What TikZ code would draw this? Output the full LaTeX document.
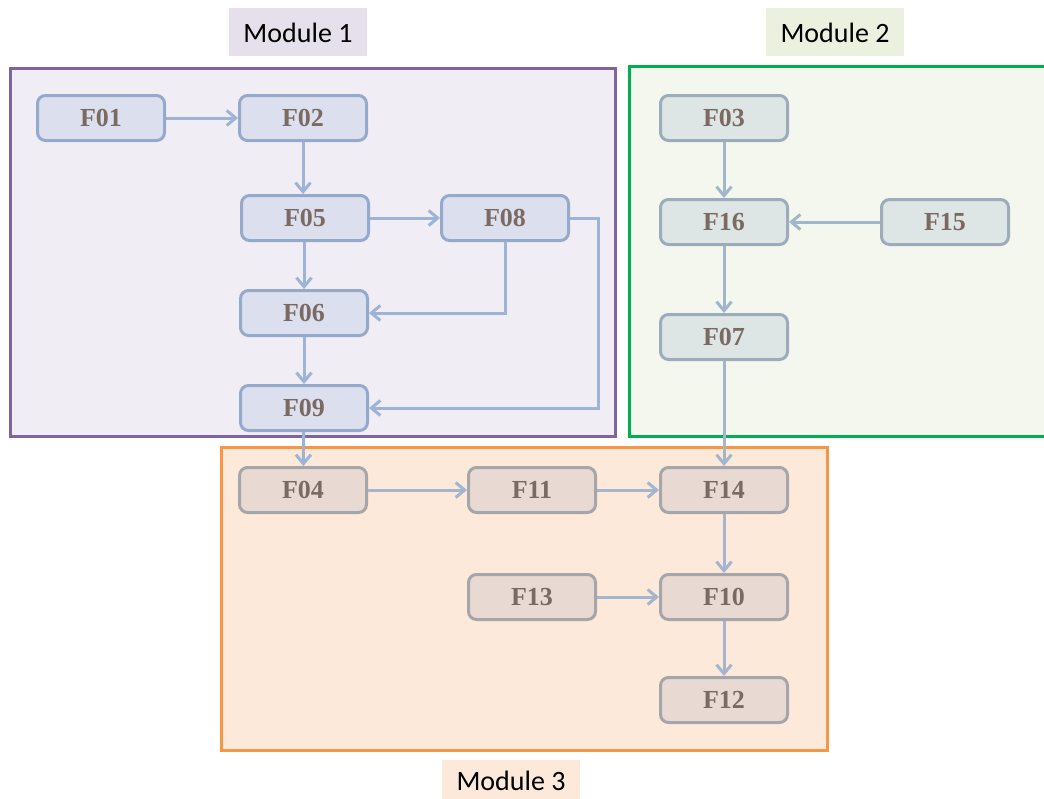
\documentclass[tikz,border=0pt]{standalone}
\usepackage{fontspec}
\setmainfont{Liberation Serif}
\newfontfamily\calibri{Carlito}
\usetikzlibrary{arrows.meta}
\definecolor{mAline}{HTML}{8064A2}
\definecolor{mAfill}{HTML}{F0EEF4}
\definecolor{mAlab}{HTML}{E5E0EC}
\definecolor{mBline}{HTML}{00B050}
\definecolor{mBfill}{HTML}{F4F7EE}
\definecolor{mBlab}{HTML}{EBF1DE}
\definecolor{mCline}{HTML}{F79646}
\definecolor{mCfill}{HTML}{FDE9D9}
\definecolor{mClab}{HTML}{FDE9D9}
\definecolor{nAfill}{HTML}{DCE0EE}
\definecolor{nAline}{HTML}{95A9CB}
\definecolor{nBfill}{HTML}{DEE5E5}
\definecolor{nBline}{HTML}{9CACBA}
\definecolor{nCfill}{HTML}{E8DAD2}
\definecolor{nCline}{HTML}{A6A6AA}
\definecolor{ntext}{HTML}{7A6A62}
\definecolor{eA}{HTML}{9DB3D7}
\definecolor{eB}{HTML}{A1B6C9}
\definecolor{eC}{HTML}{A3B5CF}
\tikzset{
  fbox/.style={rounded corners=8pt, line width=3pt, minimum width=127pt, minimum height=45pt, inner sep=0pt,
    font=\fontsize{26}{28}\selectfont\bfseries, text=ntext},
  boxA/.style={fbox, draw=nAline, fill=nAfill},
  boxB/.style={fbox, draw=nBline, fill=nBfill},
  boxC/.style={fbox, draw=nCline, fill=nCfill},
  edge/.style={line width=3pt, -{Straight Barb[length=9pt,width=15pt]}},
  edgeA/.style={edge, draw=eA},
  edgeB/.style={edge, draw=eB},
  edgeC/.style={edge, draw=eC},
  modlab/.style={font=\calibri\fontsize{28}{32}\selectfont, text=black, inner sep=0pt}
}
\begin{document}
\begin{tikzpicture}[x=1pt,y=-1pt]
\useasboundingbox (0,0) rectangle (1044,798);
\clip (0,0) rectangle (1044,798);
% modules
\draw[line width=3pt, draw=mAline, fill=mAfill] (10,68) rectangle (615,436);
\draw[line width=3pt, draw=mBline, fill=mBfill] (629,66) rectangle (1060,436);
\draw[line width=3pt, draw=mCline, fill=mCfill] (221,447) rectangle (827,750);
% labels
\fill[mAlab] (229,8) rectangle (367,56);
\node[modlab] (labA) at (298,33) {Module 1};
\fill[mBlab] (766,8) rectangle (904,56);
\node[modlab] (labB) at (835,33) {Module 2};
\fill[mClab] (442,760) rectangle (580,805);
\node[modlab] (labC) at (511,781) {Module 3};
% nodes
\node[boxA] (F01) at (101,118) {F01};
\node[boxA] (F02) at (303,118) {F02};
\node[boxA] (F05) at (305,218) {F05};
\node[boxA] (F08) at (505,218) {F08};
\node[boxA] (F06) at (304,313) {F06};
\node[boxA] (F09) at (304,408) {F09};
\node[boxB] (F03) at (724,118) {F03};
\node[boxB] (F16) at (724,222) {F16};
\node[boxB] (F15) at (945,222) {F15};
\node[boxB] (F07) at (724,337) {F07};
\node[boxC] (F04) at (303,490) {F04};
\node[boxC] (F11) at (532,490) {F11};
\node[boxC] (F14) at (724,490) {F14};
\node[boxC] (F13) at (532,597) {F13};
\node[boxC] (F10) at (724,597) {F10};
\node[boxC] (F12) at (724,700) {F12};
\coordinate (c8a) at (598,218);
\coordinate (c8b) at (598,408);
% edges
\draw[edgeA] (F01) -- (F02);
\draw[edgeA] (F02.south) -- (F02.south |- F05.north);
\draw[edgeA] (F05) -- (F08);
\draw[edgeA] (F05.south -| F06) -- (F06.north);
\draw[edgeA] (F08.south) |- (F06.east);
\draw[edgeA] (F08.east) -- (c8a) -- (c8b) -- (F09.east);
\draw[edgeA] (F06) -- (F09);
\draw[edgeA] (F09) -- (F04);
\draw[edgeB] (F03) -- (F16);
\draw[edgeB] (F15) -- (F16);
\draw[edgeB] (F16) -- (F07);
\draw[edgeB] (F07) -- (F14);
\draw[edgeC] (F04) -- (F11);
\draw[edgeC] (F11) -- (F14);
\draw[edgeC] (F14) -- (F10);
\draw[edgeC] (F13) -- (F10);
\draw[edgeC] (F10) -- (F12);
\end{tikzpicture}
\end{document}
